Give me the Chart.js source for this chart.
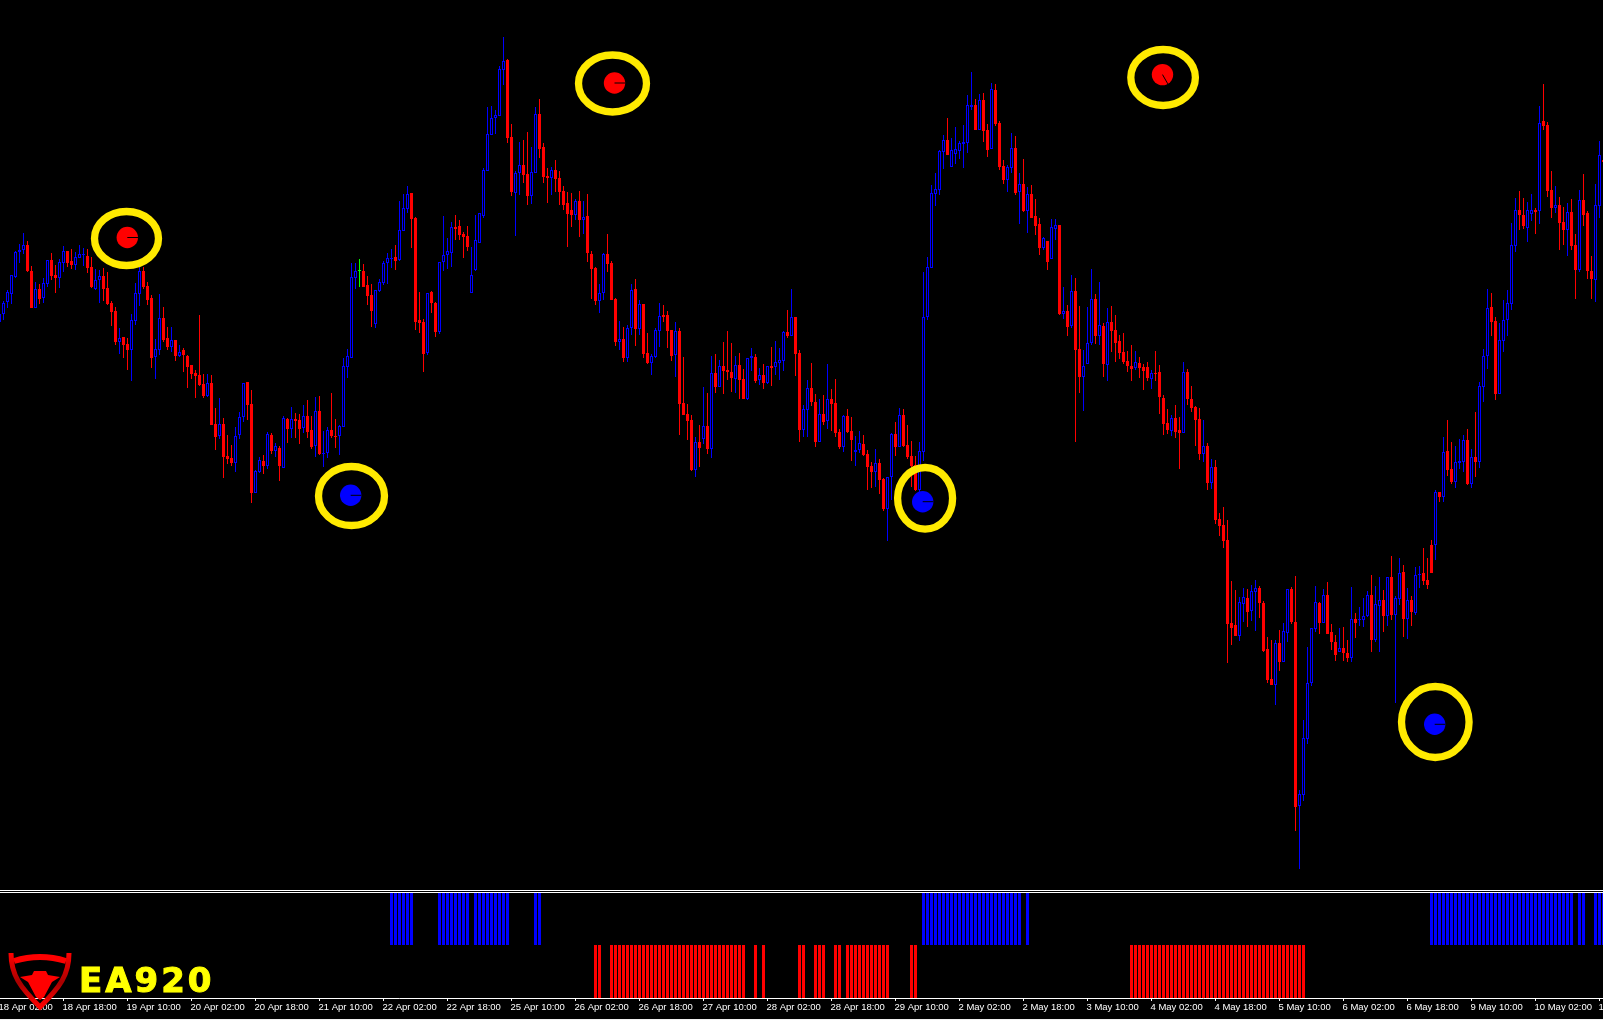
<!DOCTYPE html>
<html>
<head>
<meta charset="utf-8">
<title>EA920</title>
<script src="https://cdn.jsdelivr.net/npm/chart.js@4"></script>
<style>
  html, body { margin: 0; height: 100%; background: #000; overflow: hidden; }
  canvas { position: absolute; left: -3px; }
  #priceChart { top: 0; }
  #signalChart { top: 893px; }
  .rule { position: absolute; left: 0; width: 100%; height: 1px; background: #fff; }
  #edge { position: absolute; left: 0; top: 1019px; width: 100%; height: 1px; background: #f0f0f0; }
  #logo { position: absolute; left: 0; top: 945px; }
  #brand { position: absolute; left: 79px; top: 960px; font: bold 34px "DejaVu Sans", sans-serif; color: #ffff00; -webkit-text-stroke: 1px #ffff00; letter-spacing: 3px; line-height: 40px; }
</style>
</head>
<body>
<canvas id="priceChart" width="1609" height="890"></canvas>
<div class="rule" style="top:890px"></div>
<div class="rule" style="top:892px"></div>
<canvas id="signalChart" width="1609" height="126"></canvas>
<div id="edge"></div>
<svg id="logo" width="80" height="70">
  <defs>
    <linearGradient id="fade" x1="0" y1="0" x2="0" y2="1">
      <stop offset="0" stop-color="#ff0000"/>
      <stop offset="0.55" stop-color="#a80000"/>
      <stop offset="1" stop-color="#ff0000"/>
    </linearGradient>
  </defs>
  <path d="M11,8 C11,30 20,42 40,62 C60,42 69,30 69,8" fill="none" stroke="url(#fade)" stroke-width="5"/>
  <path d="M14,16 Q40,8 66,16" fill="none" stroke="#ff0000" stroke-width="6"/>
  <path d="M20,32 L32,30 L34,26 L46,26 L48,30 L60,32 L52,37 L44,52 L40,55 L36,52 L28,37 Z" fill="#ff0000"/>
</svg>
<div id="brand">EA920</div>
<script>
// chart readings, one hourly bar each, 10 per line
const highs = [
  686,699,710,725,749,756,767,759,734,718, 716,722,740,747,735,741,754,749,751,748,
  755,752,751,743,731,730,732,728,699,693, 672,663,662,686,717,733,733,718,705,661,
  706,693,673,673,660,655,652,645,635,630, 685,626,626,625,592,602,582,565,555,573,
  588,617,618,610,530,543,545,568,567,557, 554,584,582,593,587,586,595,600,584,603,
  604,569,573,607,581,575,642,651,737,737, 741,736,724,716,710,721,739,747,751,755,
  799,806,814,807,783,708,681,707,709,698, 738,784,762,778,785,780,768,774,753,785,
  787,832,893,894,890,934,963,941,876,829, 858,860,868,853,893,901,857,832,833,840,
  829,814,808,807,801,809,799,806,749,733, 716,747,766,739,702,679,673,675,716,721,
  700,696,667,646,672,697,695,689,670,678, 672,643,596,585,563,575,613,607,644,646,
  640,658,669,657,644,647,631,642,652,646, 632,636,634,653,659,652,669,690,711,683,
  650,595,620,637,606,601,605,636,611,621, 571,585,591,583,564,569,565,550,538,551,
  541,522,523,567,578,592,591,575,559,544, 558,728,743,815,827,850,865,882,862,873,
  859,875,905,928,901,906,907,876,917,916, 879,840,835,867,864,827,841,813,815,801,
  782,763,759,781,781,775,713,695,725,722, 694,650,693,731,706,718,677,692,694,685,
  665,667,649,655,649,643,636,638,630,649, 635,605,591,585,595,583,638,631,614,594,
  592,580,557,541,540,487,493,480,419,410, 403,412,411,415,420,414,399,363,360,360,
  370,377,411,413,424,210,280,353,372,414, 398,411,418,376,365,372,373,360,413,387,
  393,402,409,425,414,423,410,423,444,404, 442,435,412,404,433,434,452,442,460,510,
  508,563,580,558,554,561,565,571,551,588, 618,651,711,707,683,677,700,710,777,802,
  809,802,798,806,792,894,916,878,829,814, 803,793,797,801,766,810,826,789,744,816,
  859,850
];
const lows = [
  678,680,692,696,722,737,746,728,692,692, 696,697,713,720,707,712,728,733,731,730,
  742,734,727,712,710,697,699,695,674,655, 646,642,630,619,675,694,711,695,632,621,
  645,658,650,648,639,643,628,612,621,602, 614,602,603,575,550,561,522,536,534,528,
  561,578,580,497,507,527,526,531,546,543, 519,532,557,562,562,556,567,562,551,543,
  545,533,542,562,552,545,573,622,642,711, 713,713,695,673,672,708,715,716,732,730,
  739,769,787,752,670,667,628,645,687,663, 666,729,731,733,760,760,742,749,707,729,
  757,782,829,865,866,884,915,857,804,764, 805,817,795,796,827,842,817,797,805,808,
  795,790,753,773,780,763,766,738,701,695, 687,700,728,700,654,650,638,638,665,654,
  665,642,636,625,642,653,678,652,639,623, 565,585,560,529,523,533,556,546,542,607,
  613,606,620,608,607,601,601,600,629,617, 615,611,616,614,625,620,629,662,664,624,
  558,563,563,594,553,558,575,571,569,563, 551,548,567,539,534,547,544,510,512,513,
  506,489,459,500,544,553,553,541,513,509, 507,539,680,732,794,805,831,845,833,836,
  841,832,847,890,870,870,858,843,851,874, 830,816,808,827,805,776,788,767,782,765,
  745,750,730,741,760,685,681,664,672,558, 607,589,636,655,656,655,623,619,648,638,
  641,636,628,619,630,622,610,619,611,619, 586,565,566,564,562,531,567,595,588,554,
  540,538,510,511,476,464,452,337,355,364, 359,378,373,379,369,382,348,317,315,295,
  329,338,358,376,169,131,199,256,314,368, 366,377,366,350,339,348,339,338,338,362,
  374,373,383,348,358,348,368,374,380,297, 395,363,361,374,385,412,415,411,427,440,
  498,498,524,516,512,531,528,515,512,523, 532,598,631,664,600,606,648,664,690,748,
  770,771,758,779,766,776,870,803,782,787, 750,755,744,750,701,728,774,721,701,698,
  782,830
];
const opens = [
  678,686,698,706,723,748,750,755,729,692, 711,702,716,740,725,722,737,749,739,735,
  742,745,744,733,711,720,724,712,697,689, 658,663,656,650,679,706,729,714,702,643,
  650,682,662,653,660,644,650,644,635,627, 625,616,604,617,576,564,576,544,542,537,
  565,583,618,596,507,528,539,534,565,549, 552,532,581,571,581,580,572,584,570,554,
  589,546,547,570,564,564,573,633,642,722, 729,729,715,705,676,709,717,737,741,743,
  740,769,791,807,782,680,678,647,708,697, 668,738,745,747,773,774,766,764,707,730,
  757,784,829,865,882,884,930,940,863,807, 827,835,826,804,827,886,853,824,822,830,
  822,809,797,790,785,799,780,784,746,732, 699,707,746,737,701,658,661,642,672,711,
  671,696,647,637,643,669,685,685,670,645, 669,597,586,580,530,558,561,574,551,627,
  613,634,630,628,621,635,621,601,642,643, 620,625,617,634,633,637,639,668,664,683,
  647,570,590,612,598,558,586,579,601,597, 568,553,584,569,548,550,556,546,534,528,
  537,521,491,523,566,553,585,555,544,535, 510,548,683,732,806,810,848,860,833,846,
  849,856,857,893,895,870,900,870,851,910, 877,834,820,832,852,808,816,789,806,784,
  776,752,759,741,771,775,686,689,674,709, 651,623,636,657,701,664,674,635,678,670,
  659,648,639,634,632,637,633,633,621,627, 628,602,577,569,582,570,567,628,601,593,
  581,546,554,517,533,481,475,460,377,375, 364,396,402,389,408,412,397,351,321,315,
  357,338,367,411,378,194,205,261,317,371, 397,377,405,368,358,348,352,347,342,381,
  380,380,384,405,360,394,400,384,423,385, 401,428,381,400,387,425,427,420,455,455,
  508,503,549,531,518,537,538,560,516,543, 538,613,644,693,679,606,659,680,696,754,
  790,785,772,786,790,789,879,875,810,792, 795,778,770,788,755,730,800,787,729,720,
  794,840
];
const closes = [
  686,697,708,725,748,750,755,729,692,711, 701,717,740,724,722,738,749,737,735,743,
  746,746,732,713,720,724,711,696,688,658, 662,655,650,680,707,729,713,700,642,651,
  682,660,653,660,644,648,645,633,626,624, 615,604,617,575,563,576,543,541,537,564,
  583,617,595,507,529,540,534,566,549,554, 534,582,571,581,579,571,584,568,553,589,
  546,547,570,564,563,574,634,644,723,729, 729,713,704,689,710,718,737,742,742,739,
  770,792,806,781,678,677,646,707,697,668, 738,745,749,773,771,765,763,753,725,760,
  787,830,866,882,885,931,939,862,808,827, 835,825,804,828,886,851,823,822,830,821,
  808,795,786,785,799,780,783,747,731,699, 707,746,736,700,658,661,642,672,710,671,
  696,646,637,644,670,684,683,669,644,669, 596,585,579,530,558,552,574,551,627,613,
  634,629,628,622,635,620,601,642,644,619, 625,617,634,632,638,640,668,664,683,646,
  570,591,612,598,558,586,578,601,596,567, 553,584,568,560,550,557,545,533,528,537,
  520,491,523,566,553,585,554,543,534,510, 549,683,733,807,811,849,860,845,850,851,
  857,858,895,895,870,900,869,850,911,876, 833,820,833,852,807,816,789,806,782,774,
  752,762,738,773,775,686,689,673,709,650, 623,634,657,701,664,675,636,678,669,657,
  647,638,634,631,638,632,629,622,627,626, 603,576,570,582,568,567,628,601,592,580,
  546,554,517,533,480,474,459,376,372,364, 398,403,388,409,412,397,349,320,315,357,
  338,369,411,378,193,206,262,317,372,398, 377,405,366,358,345,352,347,342,381,377,
  381,384,405,360,396,400,384,423,385,402, 427,381,400,388,425,426,419,415,427,508,
  503,548,530,518,538,539,560,516,543,538, 614,644,692,678,606,660,680,697,755,790,
  785,774,790,790,788,877,874,809,792,795, 777,770,788,754,730,800,785,729,721,795,
  845,838
];

// axis labels, one every 16 bars
const tickLabels = [
  '18 Apr 02:00', '18 Apr 18:00', '19 Apr 10:00', '20 Apr 02:00', '20 Apr 18:00', '21 Apr 10:00',
  '22 Apr 02:00', '22 Apr 18:00', '25 Apr 10:00', '26 Apr 02:00', '26 Apr 18:00', '27 Apr 10:00',
  '28 Apr 02:00', '28 Apr 18:00', '29 Apr 10:00', '2 May 02:00', '2 May 18:00', '3 May 10:00',
  '4 May 02:00', '4 May 18:00', '5 May 10:00', '6 May 02:00', '6 May 18:00', '9 May 10:00',
  '10 May 02:00', '10 May 18:00'
];

// lower pane: runs of bars where the indicator is on [first, last]
const buyRuns = [[98,103],[110,117],[119,127],[134,135],[231,255],[257,257],[358,393],[395,396],[399,401]];
const sellRuns = [[149,150],[153,186],[189,189],[191,191],[200,201],[204,206],[209,210],[212,222],[228,229],[283,326]];

// highlighted turning points: bar position and reading
const dotBar = [31.95, 153.75, 290.75, 87.8, 230.8, 358.8];
const dotValue = [762.5, 917, 925.4, 504.7, 498.3, 275.7];
const dotSide = ['sell', 'sell', 'sell', 'buy', 'buy', 'buy'];
const ringBar = [31.75, 153.25, 290.9, 88, 231.4, 358.95];
const ringValue = [761.5, 916.5, 922.5, 504, 501.7, 278];

const BLUE = '#0000ff';
const RED = '#ff0000';
const LIME = '#00ff00';
const YELLOW = '#ffea00';

const ringSizes = [[32, 27], [34, 28.5], [32.3, 28], [33, 29.5], [27.5, 30.8], [33.8, 35.5]];
const slashAngles = [0, 0, 1.05, 0, 0, 0];

const labels = highs.map((h, i) => (i % 16 === 0 ? tickLabels[i / 16] : ''));

function candleColor(i) {
  if (closes[i] === opens[i]) return LIME;
  return closes[i] > opens[i] ? BLUE : RED;
}

function fromRuns(runs, range) {
  const out = labels.map(() => null);
  runs.forEach(([a, b]) => {
    for (let i = a; i <= b; i++) out[i] = range;
  });
  return out;
}

const markerPlugin = {
  id: 'markers',
  afterDatasetsDraw(chart) {
    const { ctx, scales } = chart;
    ctx.save();
    ringBar.forEach((bar, i) => {
      ctx.beginPath();
      ctx.ellipse(scales.x.getPixelForValue(bar), scales.y.getPixelForValue(ringValue[i]),
        ringSizes[i][0], ringSizes[i][1], 0, 0, Math.PI * 2);
      ctx.lineWidth = 7.3;
      ctx.strokeStyle = YELLOW;
      ctx.stroke();
    });
    dotBar.forEach((bar, i) => {
      const x = scales.x.getPixelForValue(bar);
      const y = scales.y.getPixelForValue(dotValue[i]);
      ctx.beginPath();
      ctx.arc(x, y, 10.7, 0, Math.PI * 2);
      ctx.fillStyle = dotSide[i] === 'buy' ? BLUE : RED;
      ctx.fill();
      ctx.beginPath();
      ctx.moveTo(x, y);
      ctx.lineTo(x + Math.cos(slashAngles[i]) * 10.7, y + Math.sin(slashAngles[i]) * 10.7);
      ctx.lineWidth = 1;
      ctx.strokeStyle = '#000';
      ctx.stroke();
    });
    ctx.restore();
  }
};

const sidePadding = { left: 0.5, right: 0.5, top: 0, bottom: 0 };

var priceChart = new Chart(document.getElementById('priceChart'), {
  type: 'bar',
  data: {
    labels: labels,
    datasets: [
      {
        data: highs.map((h, i) => [lows[i], h]),
        backgroundColor: labels.map((l, i) => candleColor(i)),
        barThickness: 1,
        inflateAmount: 0,
        grouped: false,
        order: 2
      },
      {
        data: opens.map((o, i) => [o, closes[i]]),
        backgroundColor: labels.map((l, i) => (closes[i] > opens[i] ? '#000' : candleColor(i))),
        borderColor: labels.map((l, i) => candleColor(i)),
        borderWidth: 1,
        borderSkipped: false,
        barThickness: 3,
        minBarLength: 1,
        inflateAmount: 0,
        grouped: false,
        order: 1
      }
    ]
  },
  options: {
    responsive: false,
    devicePixelRatio: 1,
    animation: false,
    events: [],
    layout: { padding: sidePadding },
    plugins: { legend: { display: false }, tooltip: { enabled: false } },
    scales: {
      x: { display: false },
      y: { display: false, min: 110, max: 1000 }
    }
  },
  plugins: [markerPlugin]
});

var signalChart = new Chart(document.getElementById('signalChart'), {
  type: 'bar',
  data: {
    labels: labels,
    datasets: [
      {
        data: fromRuns(buyRuns, [0, 1]),
        backgroundColor: BLUE,
        barThickness: 3,
        inflateAmount: 0,
        grouped: false
      },
      {
        data: fromRuns(sellRuns, [-1.02, 0]),
        backgroundColor: RED,
        barThickness: 3,
        inflateAmount: 0,
        grouped: false
      }
    ]
  },
  options: {
    responsive: false,
    devicePixelRatio: 1,
    animation: false,
    events: [],
    layout: { padding: sidePadding },
    plugins: { legend: { display: false }, tooltip: { enabled: false } },
    scales: {
      x: {
        afterBuildTicks(scale) {
          scale.ticks = scale.ticks.filter(t => t.value % 16 === 0);
        },
        afterFit(scale) {
          scale.height = 21;
          scale.paddingLeft = 0;
          scale.paddingRight = 0;
        },
        grid: { offset: false, drawOnChartArea: false, color: '#fff', tickLength: 3 },
        border: { color: '#fff', width: 1 },
        ticks: {
          autoSkip: false,
          maxRotation: 0,
          minRotation: 0,
          align: 'start',
          padding: 1,
          labelOffset: -1,
          color: '#fff',
          font: { family: '"Liberation Sans", sans-serif', size: 9.5 }
        }
      },
      y: { display: false, min: -1.02, max: 1 }
    }
  }
});
</script>
</body>
</html>
